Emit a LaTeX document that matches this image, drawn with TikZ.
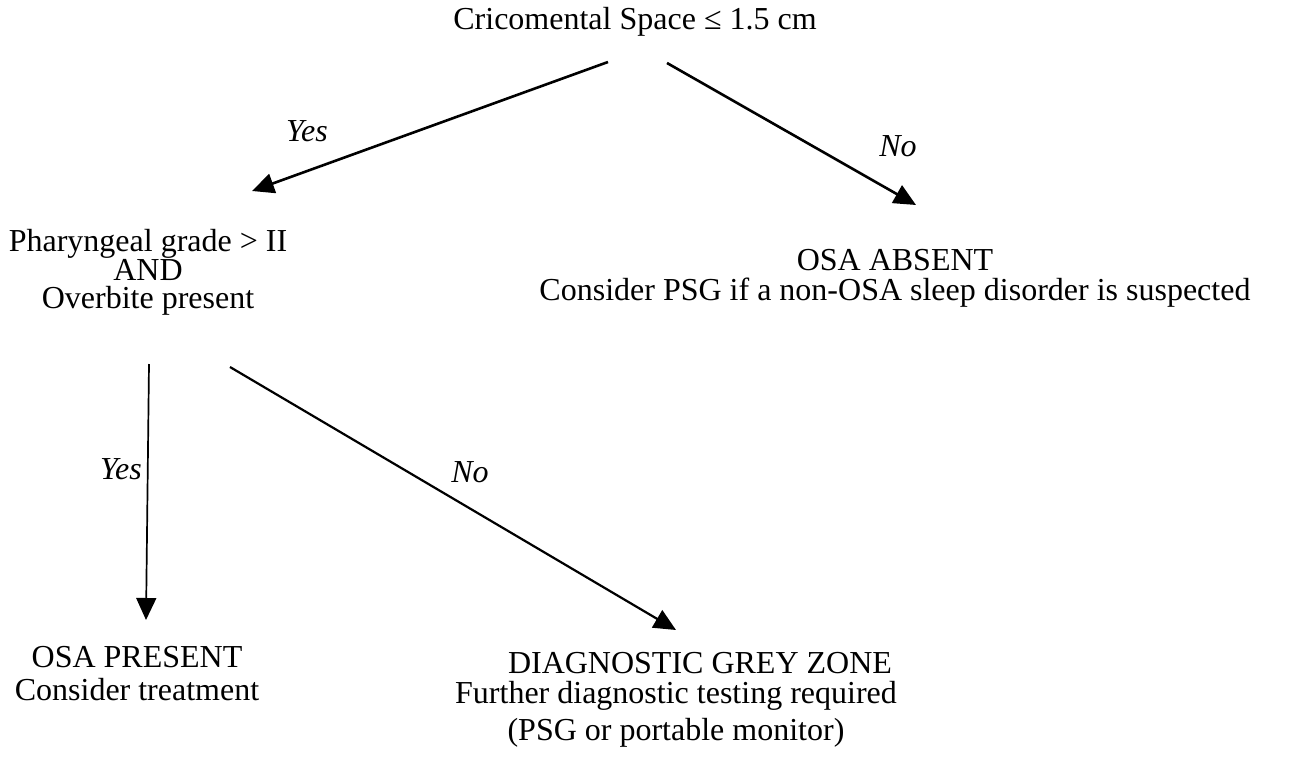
\documentclass[tikz,border=0pt]{standalone}
\usepackage{fontspec}
\setmainfont{Liberation Serif}
\usetikzlibrary{arrows.meta}
\begin{document}
\begin{tikzpicture}[x=1pt,y=-1pt,
  txt/.style={inner sep=0pt,font=\fontsize{32}{30}\selectfont,align=center,anchor=base},
  lbl/.style={inner sep=0pt,font=\fontsize{32}{30}\selectfont\itshape,anchor=center},
  arr/.style={-{Triangle[length=22pt,width=20pt]},line width=2.6pt}]
\useasboundingbox (0,0) rectangle (1292,763);
% base anchor of a multi-line node = baseline of its last line
\node[txt] (top) at (635,29) {Cricomental Space ≤ 1.5 cm};
\node[txt,font=\fontsize{32}{27.5}\selectfont] (phar) at (148,308) {Pharyngeal grade > II\\AND\\Overbite present};
\node[txt] (absent) at (895,300) {OSA ABSENT\\Consider PSG if a non-OSA sleep disorder is suspected};
\node[txt,font=\fontsize{32}{33}\selectfont] (present) at (137,700) {OSA PRESENT\\Consider treatment};
\node[txt,font=\fontsize{32}{30}\selectfont] (grey) at (676,740) {\hspace*{48pt}DIAGNOSTIC GREY ZONE\\Further diagnostic testing required\\[7pt](PSG or portable monitor)};
\coordinate (a1s) at (608,62);  \coordinate (a1e) at (252,191);
\coordinate (a2s) at (667,63);  \coordinate (a2e) at (916,205);
\coordinate (a3s) at (149,364); \coordinate (a3e) at (146,620);
\coordinate (a4s) at (230,367); \coordinate (a4e) at (676,630);
\draw[arr] (a1s) -- (a1e);
\draw[arr] (a2s) -- (a2e);
\draw[arr,line width=1.7pt] (a3s) -- (a3e);
\draw[arr,line width=2.2pt] (a4s) -- (a4e);
\node[lbl] (yes1) at (307,131) {Yes};
\node[lbl] (no1) at (898,146) {No};
\node[lbl] (yes2) at (121,469) {Yes};
\node[lbl] (no2) at (470,472) {No};
\end{tikzpicture}
\end{document}
